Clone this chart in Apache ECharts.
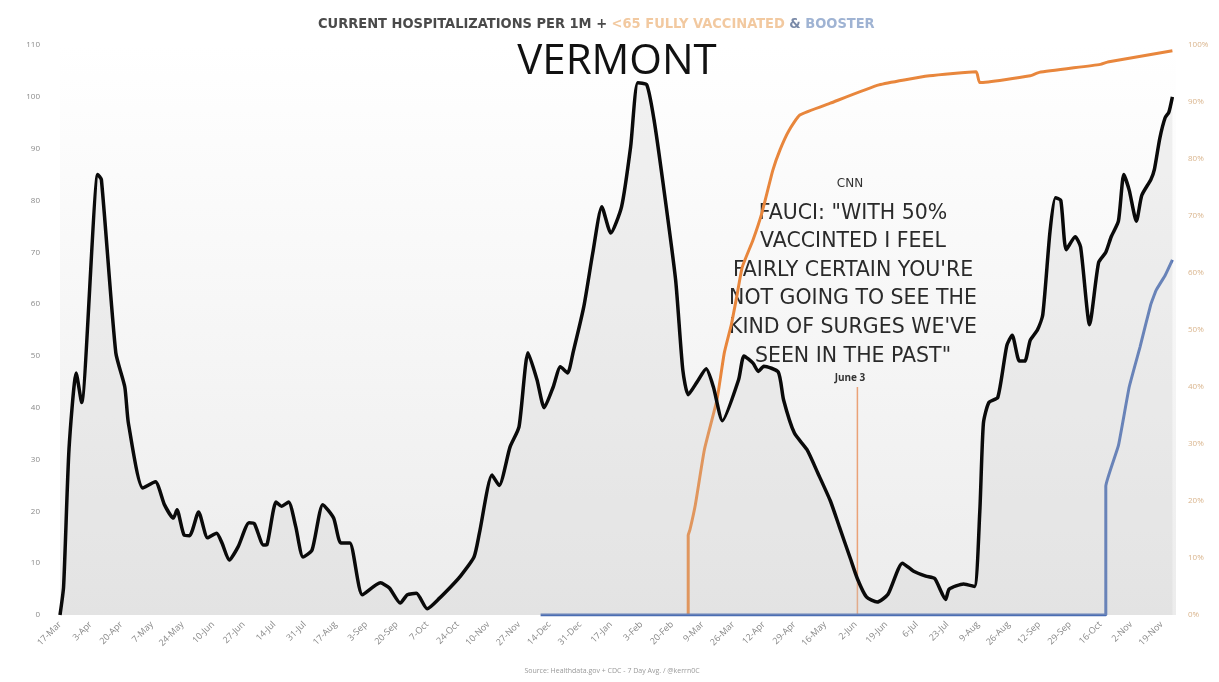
<!DOCTYPE html>
<html>
<head>
<meta charset="utf-8">
<script src="https://cdn.jsdelivr.net/npm/echarts@6/dist/echarts.min.js"></script>
<style>
html,body{margin:0;padding:0;background:#fff;}
#chart{width:1219px;height:682px;}
</style>
</head>
<body>
<div id="chart"></div>
<script>
// Tick labels (every 17 days from 17-Mar-2020)
var tickLabels = ['17-Mar','3-Apr','20-Apr','7-May','24-May','10-Jun','27-Jun','14-Jul','31-Jul','17-Aug','3-Sep','20-Sep','7-Oct','24-Oct','10-Nov','27-Nov','14-Dec','31-Dec','17-Jan','3-Feb','20-Feb','9-Mar','26-Mar','12-Apr','29-Apr','16-May','2-Jun','19-Jun','6-Jul','23-Jul','9-Aug','26-Aug','12-Sep','29-Sep','16-Oct','2-Nov','19-Nov'];

// Current hospitalizations per 1M (days since 17-Mar-2020)
var hospDays = [0,2,5,9,12,21,23,31,36,38,46,53,58,63,65,69,72,77,82,87,90,94,99,105,108,113,115,120,123,127,131,135,140,146,152,156,161,168,178,183,189,193,198,204,211,217,222,230,233,240,244,250,255,260,265,269,274,278,282,285,291,296,301,306,312,317,321,326,330,335,342,346,349,354,359,363,368,377,380,385,388,391,399,402,408,415,421,428,433,439,443,448,454,460,468,474,481,486,492,494,502,508,511,513,516,521,526,529,533,536,539,543,546,550,553,556,559,564,567,572,577,581,584,588,591,594,598,601,606,608,611,614,616,618];
var hospVals = [0,5.5,32,46.7,41,85,84,50.6,44,37,24.5,25.7,21.3,18.7,20.3,15.4,15.3,19.9,14.9,15.8,13.9,10.6,13.2,17.8,17.6,13.5,13.6,21.8,21,21.8,17,11.2,12.5,21.3,18.7,13.9,13.9,3.9,6.2,5.2,2.3,3.9,4.2,1.2,3.3,5.4,7.3,11.2,15.8,27,25,32.4,36.3,50.6,45.4,40,44,47.9,46.7,50.6,59.5,69.9,78.8,73.7,78.8,90.3,102.7,102.3,95.6,83.4,64.7,47.3,42.5,45,47.5,44,37.5,45.4,50,48.6,47,48,46.9,41.5,35.1,31.9,27.4,22,17,11,7,3.5,2.5,4,10,8.5,7.5,7,3,5,6,5.5,20,37,41,42,52,54,49,49,53,55,58,74,80.5,80,70.5,73,71,56,68,70,73,76,85,82,76,81,84,86,92,96,97,100];

// <65 fully vaccinated (%)
var vaxDays = [349,349,350,353,358,365,369,373,376,379,385,390,396,400,405,411,428,455,483,509,511,539,544,578,582,618];
var vaxVals = [0,14,15,19.4,29,37.8,45.9,51,55.9,61,65.8,70.6,78,81.6,85,87.7,89.8,93,94.6,95.3,93.4,94.6,95.2,96.6,97,99];

// Booster (%)
var boostDays = [267,581,581,588,594,600,606,609,614,618];
var boostVals = [0,0,22.6,29.7,40,47,54.5,57,59.6,62.3];

// Annotation: June 3 (day index) and its line top (left-axis units)
var noteDay = 443;
var noteTop = 44;

var chart = echarts.init(document.getElementById('chart'));

function pairs(xs, ys){ return xs.map(function(d,i){ return [d, ys[i]]; }); }

var FONT = '"Open Sans", "Noto Sans", sans-serif';
var WIDE = '"DejaVu Sans", "Noto Sans", sans-serif';
var COND = '"DejaVu Sans Condensed", "Roboto Condensed", Roboto, sans-serif';

chart.setOption({
  backgroundColor: '#ffffff',
  animation: false,
  grid: {
    left: 60, right: 43, top: 45, bottom: 67,
    show: true, borderWidth: 0,
    backgroundColor: new echarts.graphic.LinearGradient(0,0,0,1,[
      {offset:0, color:'#ffffff'},
      {offset:0.45, color:'#f7f7f7'},
      {offset:1, color:'#ececec'}
    ])
  },
  xAxis: {
    type: 'value', min: 0, max: 620, interval: 17,
    axisLine: {show:false}, axisTick: {show:false}, splitLine: {show:false},
    axisLabel: {
      rotate: 45, color: '#888', fontSize: 9, fontFamily: FONT, margin: 8,
      showMaxLabel: false,
      formatter: function(v){ var i = Math.round(v/17); return (v % 17 === 0 && tickLabels[i]) ? tickLabels[i] : ''; }
    }
  },
  yAxis: [
    {
      type: 'value', min: 0, max: 110, interval: 10, position: 'left',
      axisLine: {show:false}, axisTick: {show:false}, splitLine: {show:false},
      axisLabel: {color:'#8a8a8a', fontSize: 8, fontFamily: FONT, margin: 20}
    },
    {
      type: 'value', min: 0, max: 100, interval: 10, position: 'right',
      axisLine: {show:false}, axisTick: {show:false}, splitLine: {show:false},
      axisLabel: {color:'#d9b48c', fontSize: 8, fontFamily: FONT, margin: 12, formatter: '{value}%'}
    }
  ],
  series: [
    {
      name: 'Hospitalizations', type: 'line', yAxisIndex: 0,
      data: pairs(hospDays, hospVals), symbol: 'none', smooth: 0.2,
      lineStyle: {color:'#0a0a0a', width: 3.5},
      areaStyle: {color: 'rgba(200,200,200,0.35)'},
      z: 5
    },
    {
      name: 'Vaccinated', type: 'line', yAxisIndex: 1,
      data: pairs(vaxDays, vaxVals), symbol: 'none', smooth: 0.15,
      lineStyle: {color:'#e8863c', width: 3},
      z: 4
    },
    {
      name: 'Booster', type: 'line', yAxisIndex: 1,
      data: pairs(boostDays, boostVals), symbol: 'none', smooth: 0.1,
      lineStyle: {color:'#4a6db3', width: 3},
      z: 4
    },
    {
      name: 'June 3', type: 'line', yAxisIndex: 0,
      data: [[noteDay, 0],[noteDay, noteTop]], symbol: 'none',
      lineStyle: {color:'#eaa277', width: 1.5},
      z: 3
    }
  ],
  graphic: [
    {
      type: 'text', left: 318, top: 17,
      style: {
        text: '{a|CURRENT HOSPITALIZATIONS PER 1M + }{b|<65 FULLY VACCINATED}{c| & }{d|BOOSTER}',
        rich: {
          a: {fontSize: 14.5, fontWeight: 'bold', fill: '#4a4a4a', fontFamily: COND},
          b: {fontSize: 14.5, fontWeight: 'bold', fill: '#f2c9a0', fontFamily: COND},
          c: {fontSize: 14.5, fontWeight: 'bold', fill: '#7a8aa8', fontFamily: COND},
          d: {fontSize: 14.5, fontWeight: 'bold', fill: '#9fb3d3', fontFamily: COND}
        }
      }
    },
    {
      type: 'text', x: 617, y: 62,
      style: {text: 'VERMONT', fontSize: 42, fontFamily: FONT, fill: '#111', textAlign: 'center', textVerticalAlign: 'middle'}
    },
    {
      type: 'text', x: 850, y: 184,
      style: {text: 'CNN', fontSize: 12, fontFamily: WIDE, fill: '#333', textAlign: 'center', textVerticalAlign: 'middle'}
    },
    {
      type: 'text', x: 853, y: 199,
      style: {
        text: 'FAUCI: "WITH 50%\nVACCINTED I FEEL\nFAIRLY CERTAIN YOU\'RE\nNOT GOING TO SEE THE\nKIND OF SURGES WE\'VE\nSEEN IN THE PAST"',
        fontSize: 20.5, lineHeight: 28.6, fontFamily: WIDE, fill: '#2a2a2a', textAlign: 'center', textVerticalAlign: 'top'
      }
    },
    {
      type: 'text', x: 850, y: 378,
      style: {text: 'June 3', fontSize: 10, fontWeight: 'bold', fontFamily: FONT, fill: '#333', textAlign: 'center', textVerticalAlign: 'middle'}
    },
    {
      type: 'text', x: 612, y: 671,
      style: {text: 'Source: Healthdata.gov + CDC - 7 Day Avg. / @kerrn0C', fontSize: 7, fontFamily: FONT, fill: '#999', textAlign: 'center', textVerticalAlign: 'middle'}
    }
  ]
});
</script>
</body>
</html>
